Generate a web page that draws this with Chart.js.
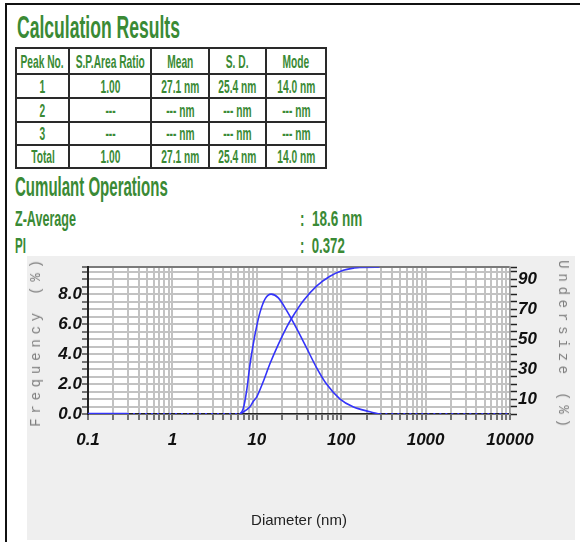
<!DOCTYPE html>
<html>
<head>
<meta charset="utf-8">
<script src="https://cdn.jsdelivr.net/npm/chart.js@4.4.1/dist/chart.umd.min.js"></script>
<style>
  html, body { margin:0; padding:0; background:#fff; }
  body { width:580px; height:542px; position:relative; overflow:hidden;
         font-family:'Liberation Sans',Arial,sans-serif; }
  .frame { position:absolute; left:5px; top:3px; right:-4px; bottom:-4px;
           border-top:2px solid #111; border-left:2px solid #111; }
  .txt { position:absolute; white-space:nowrap; color:#3a8a35; font-weight:bold;
         line-height:1; transform-origin:0 0; }
  #results { position:absolute; left:15px; top:47px; border-collapse:collapse;
             table-layout:fixed; width:310px; }
  #results td { border:2px solid #2a2a2a; padding:0; vertical-align:middle;
                color:#3a8a35; font-weight:bold; font-size:19px; line-height:1; white-space:nowrap; }
  #results td div { display:flex; justify-content:center; overflow:visible; }
  #results td span { display:inline-block; flex:none; transform-origin:50% 50%; }
  #plotBox { position:absolute; left:27px; top:256px; width:548px; height:284px; background:#efefef; }
  .ytitle { position:absolute; white-space:nowrap; font-family:'Liberation Mono','DejaVu Sans Mono',monospace;
            font-size:14px; letter-spacing:4.8px; color:#7e7e7e; }
</style>
</head>
<body>
<div class="frame"></div>

<div class="txt" data-w="163" style="left:17px; top:11px; font-size:32px;">Calculation Results</div>

<table id="results">
  <colgroup><col style="width:53px"><col style="width:82px"><col style="width:58px"><col style="width:57px"><col style="width:60px"></colgroup>
  <tr style="height:26px"><td><div><span>Peak No.</span></div></td><td><div><span>S.P.Area Ratio</span></div></td><td><div><span>Mean</span></div></td><td><div><span>S. D.</span></div></td><td><div><span>Mode</span></div></td></tr>
  <tr style="height:24px"><td><div><span>1</span></div></td><td><div><span>1.00</span></div></td><td><div><span>27.1 nm</span></div></td><td><div><span>25.4 nm</span></div></td><td><div><span>14.0 nm</span></div></td></tr>
  <tr style="height:24px"><td><div><span>2</span></div></td><td><div><span>---</span></div></td><td><div><span>--- nm</span></div></td><td><div><span>--- nm</span></div></td><td><div><span>--- nm</span></div></td></tr>
  <tr style="height:23px"><td><div><span>3</span></div></td><td><div><span>---</span></div></td><td><div><span>--- nm</span></div></td><td><div><span>--- nm</span></div></td><td><div><span>--- nm</span></div></td></tr>
  <tr style="height:23px"><td><div><span>Total</span></div></td><td><div><span>1.00</span></div></td><td><div><span>27.1 nm</span></div></td><td><div><span>25.4 nm</span></div></td><td><div><span>14.0 nm</span></div></td></tr>
</table>

<div class="txt" data-w="153" style="left:15px; top:174px; font-size:27px;">Cumulant Operations</div>
<div class="txt" data-w="61" style="left:15px; top:208px; font-size:22px;">Z-Average</div>
<div class="txt" data-w="62" style="left:300px; top:208px; font-size:22px;">:&nbsp;&nbsp;18.6 nm</div>
<div class="txt" data-w="11" style="left:15px; top:235px; font-size:22px;">PI</div>
<div class="txt" data-w="45" style="left:300px; top:235px; font-size:22px;">:&nbsp;&nbsp;0.372</div>

<div id="plotBox"><canvas id="psd"></canvas></div>
<div class="ytitle" style="left:36px; top:341px; transform:translate(-50%,-50%) rotate(-90deg);">Frequency (%)</div>
<div class="ytitle" style="left:563px; top:346px; transform:translate(-50%,-50%) rotate(90deg);">Undersize (%)</div>

<script>
// axis labels
const diameterTickLabels = [0.1, 1, 10, 100, 1000, 10000];
const frequencyTickLabels = [0, 2, 4, 6, 8];
const undersizeTickLabels = [10, 30, 50, 70, 90];

// frequency distribution (left axis, %)
const frequencyDiameter = [6.3, 6.9, 7.6, 8.3, 9.1, 10, 11, 12.6, 14.8, 18, 22.6, 29.7, 39, 51, 67, 97, 138, 219, 283];
const frequencyValue    = [0, 0.35, 1.6, 3.3, 4.7, 5.9, 6.85, 7.7, 8.0, 7.75, 6.9, 5.7, 4.4, 3.1, 2.0, 1.0, 0.48, 0.15, 0];

// cumulative undersize (right axis, %)
const undersizeDiameter = [6.3, 8.3, 9.1, 10, 11.9, 14.3, 18, 22.6, 25.7, 35.6, 51, 73.6, 106, 140, 166, 283];
const undersizeValue    = [0, 4.8, 8.5, 11.5, 21.5, 33.5, 46.5, 58, 63.6, 75.6, 85.4, 92, 96, 97.4, 97.9, 98];

// flat tails at zero
const solidTailDiameter = [0.1, 0.29];
const solidTailValue    = [0, 0];
const lowTailDiameter   = [0.29, 6.3];
const lowTailValue      = [0, 0];
const highTailDiameter  = [283, 10000];
const highTailValue     = [0, 0];

const FREQ_MAX = 9.8, UNDER_MAX = 98;
const BLUE = 'rgb(52,52,250)';
const sans = "'Liberation Sans',Arial,sans-serif";
const tickFont = { family: sans, size: 17, style: 'italic', weight: 'bold' };

// squeeze the condensed report text to its width
document.querySelectorAll('.txt[data-w]').forEach(el => {
  const k = +el.dataset.w / el.offsetWidth;
  el.style.transform = 'scaleX(' + k + ')';
});
const cellSpans = document.querySelectorAll('#results td span');
const squeeze = 43 / cellSpans[0].offsetWidth;
cellSpans.forEach(s => { s.style.transform = 'scaleX(' + squeeze + ')'; });

function pts(xs, ys) { return xs.map((x, i) => ({ x: x, y: ys[i] })); }

function steps(max, step) {
  const out = [];
  for (let v = 0; v < max - 1e-9; v += step) out.push({ value: Math.round(v * 100) / 100 });
  out.push({ value: max });
  return out;
}

const plotBackground = {
  id: 'plotBackground',
  beforeDraw(chart) {
    const { ctx, chartArea: a } = chart;
    ctx.save();
    ctx.fillStyle = '#fff';
    ctx.fillRect(a.left, a.top, a.right - a.left, a.bottom - a.top);
    ctx.restore();
  }
};

const line = (data, axis, extra) => Object.assign({
  data: data, yAxisID: axis, borderColor: BLUE, borderWidth: 1.6,
  pointRadius: 0, fill: false, cubicInterpolationMode: 'monotone'
}, extra || {});

new Chart(document.getElementById('psd'), {
  type: 'line',
  data: {
    datasets: [
      line(pts(frequencyDiameter, frequencyValue), 'y'),
      line(pts(undersizeDiameter, undersizeValue), 'y2'),
      line(pts(solidTailDiameter, solidTailValue), 'y', { borderWidth: 2.5 }),
      line(pts(lowTailDiameter, lowTailValue), 'y', { borderWidth: 2, borderDash: [2, 4] }),
      line(pts(highTailDiameter, highTailValue), 'y', { borderWidth: 2, borderDash: [2, 4] })
    ]
  },
  options: {
    responsive: true,
    maintainAspectRatio: false,
    animation: false,
    layout: { padding: { top: 9, right: 0, bottom: 0, left: 0 } },
    plugins: { legend: { display: false }, tooltip: { enabled: false } },
    scales: {
      x: {
        type: 'logarithmic', position: 'bottom', min: 0.1, max: 10000,
        afterBuildTicks: s => {
          s.ticks = s.ticks.filter(t => {
            const m = t.value / Math.pow(10, Math.floor(Math.log10(t.value) + 1e-9));
            return Math.abs(m - Math.round(m)) < 1e-6;
          });
        },
        afterFit: s => { s.height = 126; },
        grid: { color: '#c2c2c2', lineWidth: 2, tickLength: 6, tickColor: '#222', tickWidth: 1.2 },
        border: { color: '#222', width: 1.5 },
        ticks: {
          autoSkip: false, maxRotation: 0, padding: 10, color: '#111', font: tickFont,
          callback: v => diameterTickLabels.some(d => Math.abs(d - v) < 1e-9) ? String(v) : ''
        },
        title: { display: true, text: 'Diameter (nm)', color: '#222',
                 font: { family: sans, size: 15 }, padding: { top: 0, bottom: 10 } }
      },
      y: {
        type: 'linear', position: 'left', min: 0, max: FREQ_MAX,
        afterBuildTicks: s => { s.ticks = steps(FREQ_MAX, 0.5); },
        afterFit: s => { s.width = 61; },
        grid: { color: c => (c.tick && c.tick.value === FREQ_MAX) ? '#7a7a7a' : '#c2c2c2',
                lineWidth: 2, tickLength: 6, tickColor: '#222', tickWidth: 1.2 },
        border: { color: '#222', width: 2 },
        ticks: { autoSkip: false, padding: 0, color: '#111', font: tickFont,
                 callback: v => frequencyTickLabels.includes(v) ? v.toFixed(1) : '' }
      },
      y2: {
        type: 'linear', position: 'right', min: 0, max: UNDER_MAX,
        afterBuildTicks: s => { s.ticks = steps(UNDER_MAX, 5); },
        afterFit: s => { s.width = 65; },
        grid: { drawOnChartArea: false, tickLength: 7, tickColor: '#222', tickWidth: 1.5 },
        border: { color: '#999', width: 1.5 },
        ticks: { autoSkip: false, padding: 1, color: '#111', font: tickFont,
                 callback: v => undersizeTickLabels.includes(v) ? String(v) : '' }
      }
    }
  },
  plugins: [plotBackground]
});
</script>
</body>
</html>
